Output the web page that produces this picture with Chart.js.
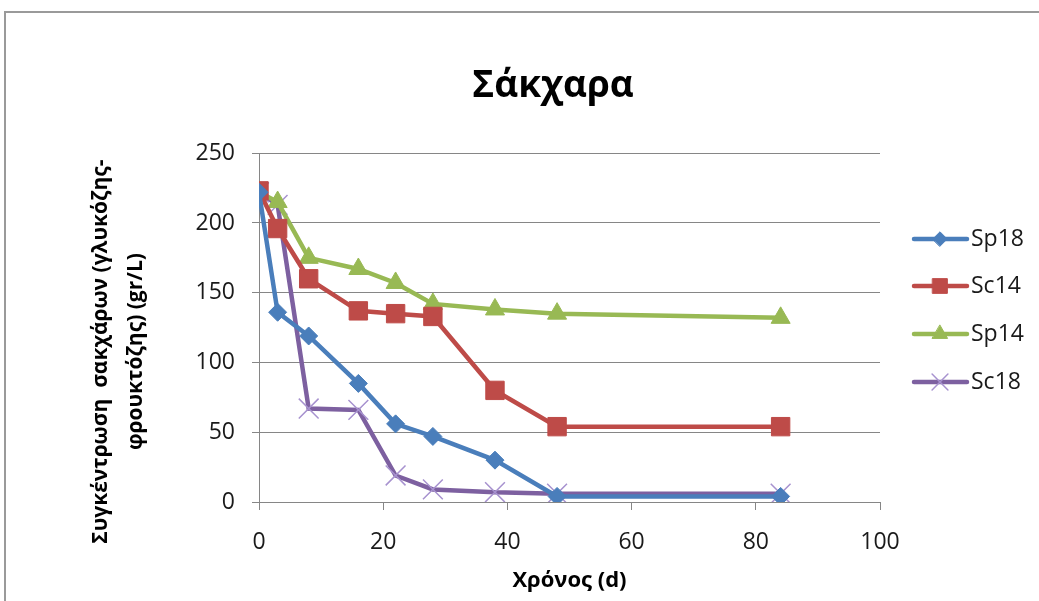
<!DOCTYPE html>
<html><head><meta charset="utf-8">
<script src="https://cdn.jsdelivr.net/npm/chart.js@4.4.1/dist/chart.umd.min.js"></script>
<style>
html,body{margin:0;padding:0;background:#fff;overflow:hidden;width:1039px;height:601px}
#frame{position:absolute;left:4px;top:11px;width:1100px;height:700px;border:2px solid #9a9a9a;box-sizing:border-box}
#c{position:absolute;left:0;top:0}
</style></head>
<body>
<div id="frame"></div>
<canvas id="c" width="1039" height="601"></canvas>
<script>
// ---- data ----
const days = [0, 3, 8, 16, 22, 28, 38, 48, 84];
const sp18 = [222, 136, 119, 85, 56, 47, 30, 4, 4];
const sc14 = [223, 196, 160, 137, 135, 133, 80, 54, 54];
const sp14 = [222, 215, 175, 167, 157, 142, 138, 135, 132];
const sc18 = [222, 213, 67, 66, 19, 9, 7, 6, 6];
const seriesNames = ['Sp18', 'Sc14', 'Sp14', 'Sc18'];
const chartTitle = 'Σάκχαρα';
const xTitle = 'Χρόνος (d)';
const yTitle = ['Συγκέντρωση  σακχάρων (γλυκόζης-', 'φρουκτόζης) (gr/L)'];
const xTicks = [0, 20, 40, 60, 80, 100];
const yTicks = [0, 50, 100, 150, 200, 250];

const FONT = "'Open Sans', 'DejaVu Sans', sans-serif";
const GRID = '#868686';
const pts = arr => days.map((d, i) => ({x: d, y: arr[i]}));

const styles = [
  {color:'#4a7ebb', ps:'rectRot', r:9,  bw:1, pc:'#4a7ebb'},
  {color:'#be4b48', ps:'rect',    r:13, bw:1, pc:'#be4b48'},
  {color:'#98b954', ps:'triangle',r:11, bw:1, pc:'#98b954'},
  {color:'#7d60a0', ps:'crossRot',r:14, bw:1.5, pc:'#a792cf'}
];
const values = [sp18, sc14, sp14, sc18];

const datasets = values.map((v, i) => ({
  label: seriesNames[i],
  data: pts(v),
  borderColor: styles[i].color,
  backgroundColor: styles[i].color,
  borderWidth: 4.5,
  tension: 0,
  pointStyle: styles[i].ps,
  pointRadius: styles[i].r,
  pointHoverRadius: styles[i].r,
  pointBackgroundColor: styles[i].pc,
  pointBorderColor: styles[i].pc,
  pointBorderWidth: styles[i].bw
}));

const legendPlugin = {
  id: 'excelLegend',
  afterDraw(chart) {
    const ctx = chart.ctx;
    const ys = [239, 286, 334, 382];
    ctx.save();
    chart.data.datasets.forEach((ds, i) => {
      const y = ys[i];
      ctx.strokeStyle = ds.borderColor;
      ctx.lineWidth = 4.5;
      ctx.lineCap = 'round';
      ctx.beginPath(); ctx.moveTo(914, y); ctx.lineTo(967, y); ctx.stroke();
      ctx.fillStyle = ds.pointBackgroundColor;
      ctx.strokeStyle = ds.pointBorderColor;
      ctx.lineWidth = ds.pointBorderWidth;
      Chart.helpers.drawPoint(ctx, {pointStyle: ds.pointStyle, radius: ds.pointRadius * 0.8, rotation: 0, borderWidth: ds.pointBorderWidth}, 940, y);
      ctx.fillStyle = '#1a1a1a';
      ctx.font = '23px ' + FONT;
      ctx.textBaseline = 'middle';
      ctx.textAlign = 'left';
      ctx.fillText(ds.label, 971, y);
    });
    ctx.restore();
  }
};

const shiftYTitle = {
  id: 'shiftYTitle',
  afterLayout(chart) {
    const s = chart.scales.y;
    if (s._shifted) return;
    const orig = s.drawTitle;
    s.drawTitle = function() {
      const t = this.top, b = this.bottom;
      this.top += 24; this.bottom += 24;
      orig.call(this);
      this.top = t; this.bottom = b;
    };
    s._shifted = true;
  }
};

function draw() {
  new Chart(document.getElementById('c'), {
    type: 'line',
    data: {datasets},
    options: {
      responsive: false,
      animation: false,
      devicePixelRatio: 1,
      layout: {padding: {left: 67, right: 0, top: 11, bottom: 0}},
      plugins: {
        legend: {display: false},
        tooltip: {enabled: false},
        title: {
          display: true, text: chartTitle, color: '#000',
          font: {family: FONT, size: 37, weight: 'bold', lineHeight: 1.2},
          padding: {top: 53, bottom: 44.8}
        }
      },
      scales: {
        x: {
          type: 'linear', min: 0, max: 100,
          afterBuildTicks: s => { s.ticks = xTicks.map(v => ({value: v})); },
          ticks: {color: '#1a1a1a', font: {family: FONT, size: 23}, padding: 19, maxRotation: 0},
          grid: {drawOnChartArea: false, drawTicks: true, tickLength: 8, color: GRID, lineWidth: 1},
          border: {display: true, color: GRID, width: 1},
          title: {display: true, text: xTitle, color: '#000', font: {family: FONT, size: 22, weight: 'bold', lineHeight: 1.2}, padding: {top: 0, bottom: 7}},
          afterFit: s => { s.height = 99; }
        },
        y: {
          type: 'linear', min: 0, max: 250, position: 'left',
          afterBuildTicks: s => { s.ticks = yTicks.map(v => ({value: v})); },
          ticks: {color: '#1a1a1a', font: {family: FONT, size: 23}, padding: 17},
          grid: {drawOnChartArea: true, drawTicks: true, tickLength: 7, color: GRID, lineWidth: 1},
          border: {display: true, color: GRID, width: 1},
          title: {display: true, text: yTitle, color: '#000', font: {family: FONT, size: 21, weight: 'bold', lineHeight: 1.667}, padding: {top: 16.5, bottom: 0}},
          afterFit: s => { s.width = 192; }
        },
        yR: {
          type: 'linear', position: 'right', display: true,
          grid: {display: false}, border: {display: false}, ticks: {display: false},
          afterFit: s => { s.width = 159; }
        }
      }
    },
    plugins: [legendPlugin, shiftYTitle]
  });
}
Promise.all([
  document.fonts.load("bold 32px 'Open Sans'"),
  document.fonts.load("23px 'Open Sans'")
]).then(draw, draw);
</script>
</body></html>
